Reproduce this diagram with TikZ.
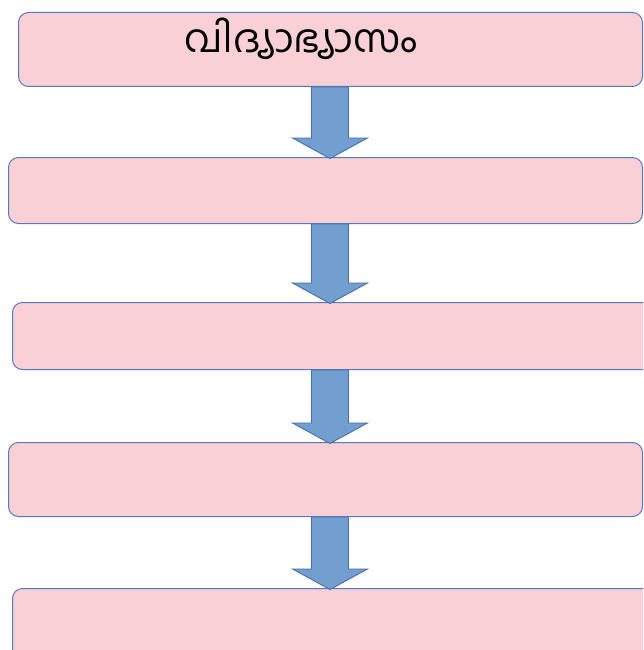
\documentclass[tikz,border=0pt]{standalone}
\usepackage{fontspec}
\newfontfamily\malfont[Script=Malayalam]{Hind Kochi}
\usetikzlibrary{calc}
\definecolor{boxfill}{RGB}{248,208,214}
\definecolor{boxline}{RGB}{84,121,190}
\definecolor{arrfill}{RGB}{114,159,207}
\definecolor{arrline}{RGB}{70,110,170}
\tikzset{
  stagebox/.style={draw=boxline, fill=boxfill, line width=1pt, rounded corners=10pt,
    anchor=north west, inner sep=0pt},
  barrow/.style={draw=arrline, fill=arrfill, line width=0.9pt, line join=miter},
  title/.style={font=\malfont\fontsize{39}{44}\selectfont, text=black, inner sep=0pt}
}
\newcommand\blockarrow[2]{%
  \draw[barrow] ($(ax |- #1.south)+(-18.5,0)$) -- ($(ax |- #1.south)+(18.5,0)$)
    -- ($(ax |- #2.north)+(18.5,19)$) -- ($(ax |- #2.north)+(37.5,19)$)
    -- ($(ax |- #2.north)+(0,-1.5)$) -- ($(ax |- #2.north)+(-37.5,19)$)
    -- ($(ax |- #2.north)+(-18.5,19)$) -- cycle;}
\begin{document}
\begin{tikzpicture}[x=1pt,y=1pt]
\useasboundingbox (0,0) rectangle (643,-650);
\clip (0,0) rectangle (643,-650);
\fill[white] (0,0) rectangle (643,-650);
\node[stagebox, minimum width=624pt, minimum height=74pt] (b1) at (18,-12) {};
\node[stagebox, minimum width=634pt, minimum height=66pt] (b2) at (8,-157) {};
\node[stagebox, minimum width=650pt, minimum height=67pt] (b3) at (12,-302) {};
\node[stagebox, minimum width=634pt, minimum height=74pt] (b4) at (8,-442) {};
\node[stagebox, minimum width=650pt, minimum height=80pt] (b5) at (12,-588) {};
\node[title] (t1) at (301,-39) {വിദ്യാഭ്യാസം};
\coordinate (ax) at (330,0);
\blockarrow{b1}{b2}
\blockarrow{b2}{b3}
\blockarrow{b3}{b4}
\blockarrow{b4}{b5}
\end{tikzpicture}
\end{document}
